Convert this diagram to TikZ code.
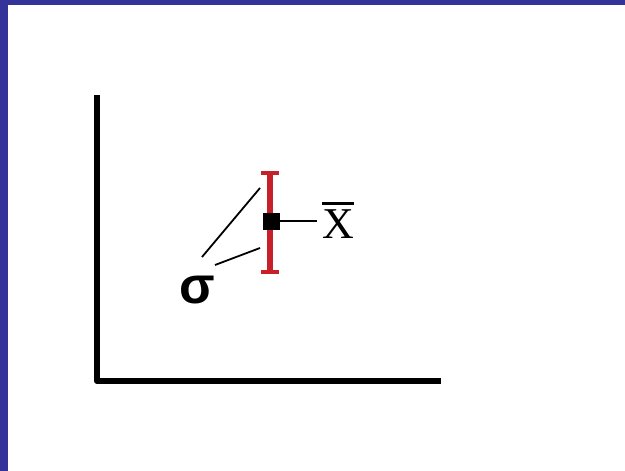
\documentclass[tikz,border=0pt]{standalone}
\usepackage{fontspec}
\newfontfamily\sigmafont{Liberation Sans}
\newfontfamily\meanfont{Liberation Serif}
\definecolor{frameblue}{RGB}{51,51,153}
\definecolor{barred}{RGB}{200,32,40}

\begin{document}
\begin{tikzpicture}[x=1pt,y=-1pt,line join=round]
  \useasboundingbox (0,0) rectangle (625,471);
  % 蓝色边框
  \fill[frameblue] (0,0) rectangle (625,4.5);
  \fill[frameblue] (0,0) rectangle (7.5,471);
  % 坐标轴
  \draw[line width=6pt] (97,95) -- (97,381) -- (441,381);
  % 误差棒
  \coordinate (bartop) at (270,173);
  \coordinate (barbot) at (270,272);
  \draw[barred,line width=5.5pt] (bartop) -- (barbot);
  \draw[barred,line width=4.5pt] ([xshift=-9pt]bartop) -- ([xshift=9pt]bartop);
  \draw[barred,line width=4.5pt] ([xshift=-9pt]barbot) -- ([xshift=9pt]barbot);
  \node[fill=black,minimum size=17pt,inner sep=0pt] (mean) at (271,221) {};
  % 均值标注
  \node[inner sep=5pt] (xbar) at (338,220)
    {\fontsize{44}{46}\selectfont\meanfont\vbox{\hrule height 3.5pt\kern 4pt\hbox{X}}};
  \draw[line width=2pt] (mean.east) -- (mean.east -| xbar.west);
  % 标准差标注
  \node (sigma) at (197,290) {\fontsize{52}{54}\selectfont\sigmafont\bfseries σ};
  \coordinate (s1) at (202,257);
  \coordinate (s2) at (215,265);
  \draw[line width=1.8pt] (s1) -- (260,188);
  \draw[line width=1.8pt] (s2) -- (260,248);
\end{tikzpicture}
\end{document}
